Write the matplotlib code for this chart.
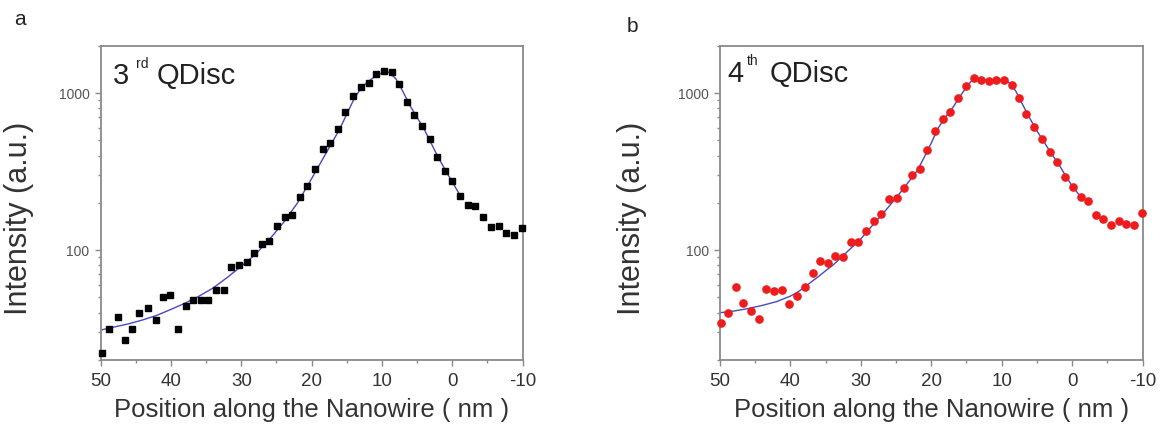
import matplotlib
matplotlib.use("Agg")
import matplotlib.pyplot as plt
from matplotlib.ticker import FixedLocator, NullFormatter, LogLocator

plt.rcParams['font.family'] = ['Liberation Sans', 'DejaVu Sans']

# ---------------- data: panel a (3rd QDisc) ----------------
pos_a = [49.8, 48.8, 47.6, 46.6, 45.5, 44.5, 43.3, 42.2, 41.1, 40.1,
         39.0, 37.9, 36.8, 35.7, 34.7, 33.6, 32.5, 31.4, 30.3, 29.2,
         28.2, 27.1, 26.0, 24.9, 23.8, 22.8, 21.7, 20.6, 19.5, 18.4,
         17.4, 16.3, 15.2, 14.1, 13.0, 11.9, 10.8, 9.7, 8.6, 7.5,
         6.5, 5.4, 4.3, 3.2, 2.1, 1.0, 0.0, -1.1, -2.2, -3.3,
         -4.4, -5.5, -6.6, -7.7, -8.8, -9.9]
int_a = [22.2, 31.6, 37.5, 27.0, 31.6, 39.8, 42.8, 36.1, 50.6, 52.2,
         31.6, 44.4, 48.5, 48.5, 48.5, 55.6, 55.6, 78.7, 79.9, 84.2,
         96.1, 109, 114, 143, 162, 168, 219, 257, 327, 439,
         484, 589, 752, 951, 1086, 1158, 1322, 1374, 1353, 1141,
         871, 727, 618, 513, 391, 321, 276, 222, 194, 192,
         162, 141, 142, 129, 125, 139]
fit_pos_a = [50, 48, 46, 44, 42, 40, 38, 36, 34, 32, 30, 28, 26, 24, 22, 20,
             18, 16, 14, 13, 12, 11, 10, 9.5, 9, 8, 7, 6, 5, 4, 3, 2, 1, 0, -1]
fit_int_a = [31, 32.5, 34, 36, 38.5, 42, 46, 51, 57.5, 67, 79, 94, 117, 150, 200, 285,
             410, 590, 910, 1070, 1180, 1270, 1340, 1365, 1355, 1230, 1020, 830,
             700, 590, 480, 390, 325, 272, 228]

# ---------------- data: panel b (4th QDisc) ----------------
pos_b = [49.9, 48.8, 47.7, 46.7, 45.6, 44.5, 43.4, 42.3, 41.2, 40.2,
         39.0, 37.9, 36.8, 35.8, 34.7, 33.6, 32.5, 31.4, 30.4, 29.3,
         28.2, 27.1, 26.0, 24.9, 23.8, 22.7, 21.6, 20.6, 19.5, 18.4,
         17.3, 16.2, 15.1, 14.0, 12.9, 11.8, 10.8, 9.7, 8.6, 7.5,
         6.5, 5.4, 4.3, 3.2, 2.1, 1.0, -0.1, -1.2, -2.3, -3.4,
         -4.4, -5.5, -6.6, -7.7, -8.8, -9.9]
int_b = [34.4, 39.8, 58.0, 46.4, 40.8, 36.3, 56.9, 55.0, 55.8, 45.2,
         51.1, 58.0, 71.6, 85.9, 82.6, 91.6, 90.6, 112.5, 112.5, 132,
         153, 170, 212, 215, 250, 302, 327, 434, 569, 683,
         752, 929, 1102, 1246, 1216, 1186, 1216, 1216, 1130, 929,
         738, 607, 509, 424, 363, 294, 254, 219, 206, 167,
         159, 144, 153, 147, 144, 172]
fit_pos_b = [50, 48, 46, 44, 42, 40, 39, 38, 37, 36, 35, 34, 33, 32, 31, 30, 29, 28,
             27, 26, 25, 24, 23, 22, 21, 20, 19, 18, 17, 16, 15, 14, 12, 10, 9, 8,
             7, 6, 5, 4, 3, 2, 1, 0, -1]
fit_int_b = [40, 41, 42.5, 44.5, 47, 51, 54, 58, 63, 68, 74, 80, 88, 97, 107, 118, 133, 150,
             168, 190, 215, 245, 280, 320, 390, 480, 600, 700, 800, 940, 1090, 1240,
             1210, 1210, 1170, 1030, 840, 690, 575, 490, 415, 358, 302, 256, 225]

xticks = [50, 40, 30, 20, 10, 0, -10]
xtick_labels = ['50', '40', '30', '20', '10', '0', '-10']

fig = plt.figure(figsize=(11.64, 4.30), dpi=100)
W, H = 1164, 430
ax_a = fig.add_axes([100.7 / W, 1 - 360 / H, 421.8 / W, 314.3 / H])
ax_b = fig.add_axes([720 / W, 1 - 360 / H, 422.5 / W, 314.3 / H])

frame_col = '#8a8a8a'
line_col = '#4848c0'


def style(ax):
    ax.set_yscale('log')
    ax.set_xlim(50, -10)
    ax.set_ylim(20, 2000)
    for s in ax.spines.values():
        s.set_color(frame_col)
        s.set_linewidth(1.3)
    ax.set_xticks(xticks)
    ax.set_xticklabels(xtick_labels)
    ax.xaxis.set_minor_locator(FixedLocator([45, 35, 25, 15, 5, -5]))
    ax.yaxis.set_major_locator(FixedLocator([100, 1000]))
    ax.yaxis.set_minor_locator(LogLocator(base=10, subs=range(2, 10)))
    ax.yaxis.set_minor_formatter(NullFormatter())
    ax.set_yticklabels(['100', '1000'])
    ax.tick_params(axis='x', which='major', direction='out', length=4, width=1,
                   color=frame_col, labelsize=13.5, labelcolor='#333333', pad=5)
    ax.tick_params(axis='x', which='minor', direction='out', length=2.5, width=1,
                   color=frame_col)
    ax.tick_params(axis='y', which='major', direction='out', length=4, width=1,
                   color=frame_col, labelsize=10, labelcolor='#555555', pad=4)
    ax.tick_params(axis='y', which='minor', direction='out', length=2, width=1,
                   color=frame_col)
    ax.tick_params(top=False, right=False)
    ax.set_xlabel('Position along the Nanowire ( nm )', fontsize=18.5, color='#333333')
    ax.xaxis.set_label_coords(0.501, -0.159)
    ax.xaxis.label.set_va('center')
    ax.set_ylabel('Intensity (a.u.)', fontsize=22, color='#333333')
    ax.yaxis.label.set_va('center')


# panel a
style(ax_a)
ax_a.plot(fit_pos_a, fit_int_a, color=line_col, lw=1.0, zorder=2)
ax_a.plot(pos_a, int_a, linestyle='none', marker='s', ms=4.6, color='black', zorder=3,
          clip_on=False)
ax_a.yaxis.set_label_coords(-0.194, 0.45)
ax_a.text(0.030, 0.878, '3', transform=ax_a.transAxes, fontsize=21, ha='left',
          va='baseline', color='#222222')
ax_a.text(0.0837, 0.93, 'rd', transform=ax_a.transAxes, fontsize=10, ha='left',
          va='baseline', color='#222222')
ax_a.text(0.1328, 0.878, 'QDisc', transform=ax_a.transAxes, fontsize=21, ha='left',
          va='baseline', color='#222222')

# panel b
style(ax_b)
ax_b.plot(fit_pos_b, fit_int_b, color=line_col, lw=1.0, zorder=2)
ax_b.plot(pos_b, int_b, linestyle='none', marker='o', ms=5.2, color='#ee1c1c', zorder=3,
          clip_on=False)
ax_b.yaxis.set_label_coords(-0.208, 0.45)
ax_b.text(0.0173, 0.8835, '4', transform=ax_b.transAxes, fontsize=21, ha='left',
          va='baseline', color='#222222')
ax_b.text(0.0632, 0.9386, 'th', transform=ax_b.transAxes, fontsize=10, ha='left',
          va='baseline', color='#222222')
ax_b.text(0.1183, 0.8835, 'QDisc', transform=ax_b.transAxes, fontsize=21, ha='left',
          va='baseline', color='#222222')

# panel letters
fig.text(14 / W, 1 - 25 / H, 'a', fontsize=15, ha='left', va='baseline', color='#222222')
fig.text(627 / W, 1 - 32 / H, 'b', fontsize=15, ha='left', va='baseline', color='#222222')

fig.savefig('out.png', dpi=100)
